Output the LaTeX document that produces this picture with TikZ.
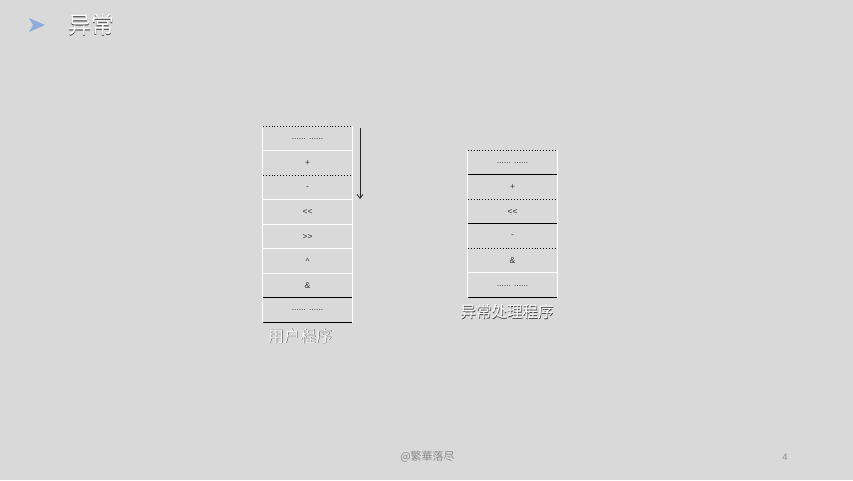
\documentclass[tikz,border=0pt]{standalone}
\usepackage{fontspec}
\setmainfont{Liberation Sans}
\newfontfamily\cjk{Noto Sans CJK SC}
\usetikzlibrary{arrows.meta}
\definecolor{bgc}{HTML}{D9D9D9}
\definecolor{iconblue}{HTML}{8FAADC}
\definecolor{footgray}{HTML}{8C8C8C}
\begin{document}
\begin{tikzpicture}[x=1pt,y=-1pt,
  cell/.style={minimum width=89pt,minimum height=24.5pt,inner sep=0pt,font=\fontsize{8.5}{9}\selectfont,text=black!80},
  wline/.style={draw=white,line width=0.9pt},
  bline/.style={draw=black,line width=0.9pt},
  dline/.style={draw=black,line width=0.9pt,dotted},
  shad/.style={text=black!80,inner sep=0pt},
  wtxt/.style={text=white,inner sep=0pt}]
\fill[bgc] (0,0) rectangle (853,480);
\useasboundingbox (0,0) rectangle (853,480);
% title
\fill[iconblue] (29,18) -- (45,25) -- (29,32) -- (33,25) -- cycle;
\node[shad,anchor=west,font=\cjk\fontsize{23}{24}\selectfont] (ts) at (68.7,25.7) {异常};
\node[wtxt,anchor=west,font=\cjk\fontsize{23}{24}\selectfont] (title) at (68,25) {异常};
% left stack
\node[cell] (L1) at (307.5,138.75) {\raisebox{-2pt}{...... ......}};
\node[cell] (L2) at (307.5,163.25) {+};
\node[cell] (L3) at (307.5,187.75) {-};
\node[cell] (L4) at (307.5,212.25) {{<}{<}};
\node[cell] (L5) at (307.5,236.75) {{>}{>}};
\node[cell] (L6) at (307.5,261.25) {\textasciicircum};
\node[cell] (L7) at (307.5,285.75) {\&};
\node[cell] (L8) at (307.5,310.25) {...... ......};
\draw[wline] (L1.north west) -- (L8.south west);
\draw[wline] (L1.north east) -- (L8.south east);
\draw[dline] (L1.north west) -- (L1.north east);
\draw[wline] (L2.north west) -- (L2.north east);
\draw[dline] (L3.north west) -- (L3.north east);
\draw[wline] (L4.north west) -- (L4.north east);
\draw[wline] (L5.north west) -- (L5.north east);
\draw[wline] (L6.north west) -- (L6.north east);
\draw[wline] (L7.north west) -- (L7.north east);
\draw[bline] (L8.north west) -- (L8.north east);
\draw[bline] (L8.south west) -- (L8.south east);
\coordinate (a1) at (360,128);
\coordinate (a2) at (360,199);
\draw[black!85,line width=0.8pt,-{Straight Barb[length=4pt,width=6pt]}] (a1) -- (a2);
\node[shad,font=\cjk\fontsize{16}{17}\selectfont] (lls) at (300.6,336.6) {用户程序};
\node[wtxt,font=\cjk\fontsize{16}{17}\selectfont] (ll) at (300,336) {用户程序};
% right stack
\node[cell] (R1) at (512.5,162.75) {\raisebox{-2pt}{...... ......}};
\node[cell] (R2) at (512.5,187.25) {+};
\node[cell] (R3) at (512.5,211.75) {{<}{<}};
\node[cell] (R4) at (512.5,236.25) {-};
\node[cell] (R5) at (512.5,260.75) {\&};
\node[cell] (R6) at (512.5,285.25) {\raisebox{-2pt}{...... ......}};
\draw[wline] (R1.north west) -- (R6.south west);
\draw[wline] (R1.north east) -- (R6.south east);
\draw[dline] (R1.north west) -- (R1.north east);
\draw[bline] (R2.north west) -- (R2.north east);
\draw[dline] (R3.north west) -- (R3.north east);
\draw[bline] (R4.north west) -- (R4.north east);
\draw[dline] (R5.north west) -- (R5.north east);
\draw[wline] (R6.north west) -- (R6.north east);
\draw[bline] (R6.south west) -- (R6.south east);
\node[shad,font=\cjk\fontsize{15.5}{16}\selectfont] (rls) at (507.6,312.6) {异常处理程序};
\node[wtxt,font=\cjk\fontsize{15.5}{16}\selectfont] (rl) at (507,312) {异常处理程序};
% footer
\node[text=footgray,font=\cjk\fontsize{11}{12}\selectfont] (foot) at (427.5,457) {@繁華落尽};
\node[text=footgray,font=\fontsize{9.5}{10}\selectfont] (pg) at (785,457) {4};
\end{tikzpicture}
\end{document}
